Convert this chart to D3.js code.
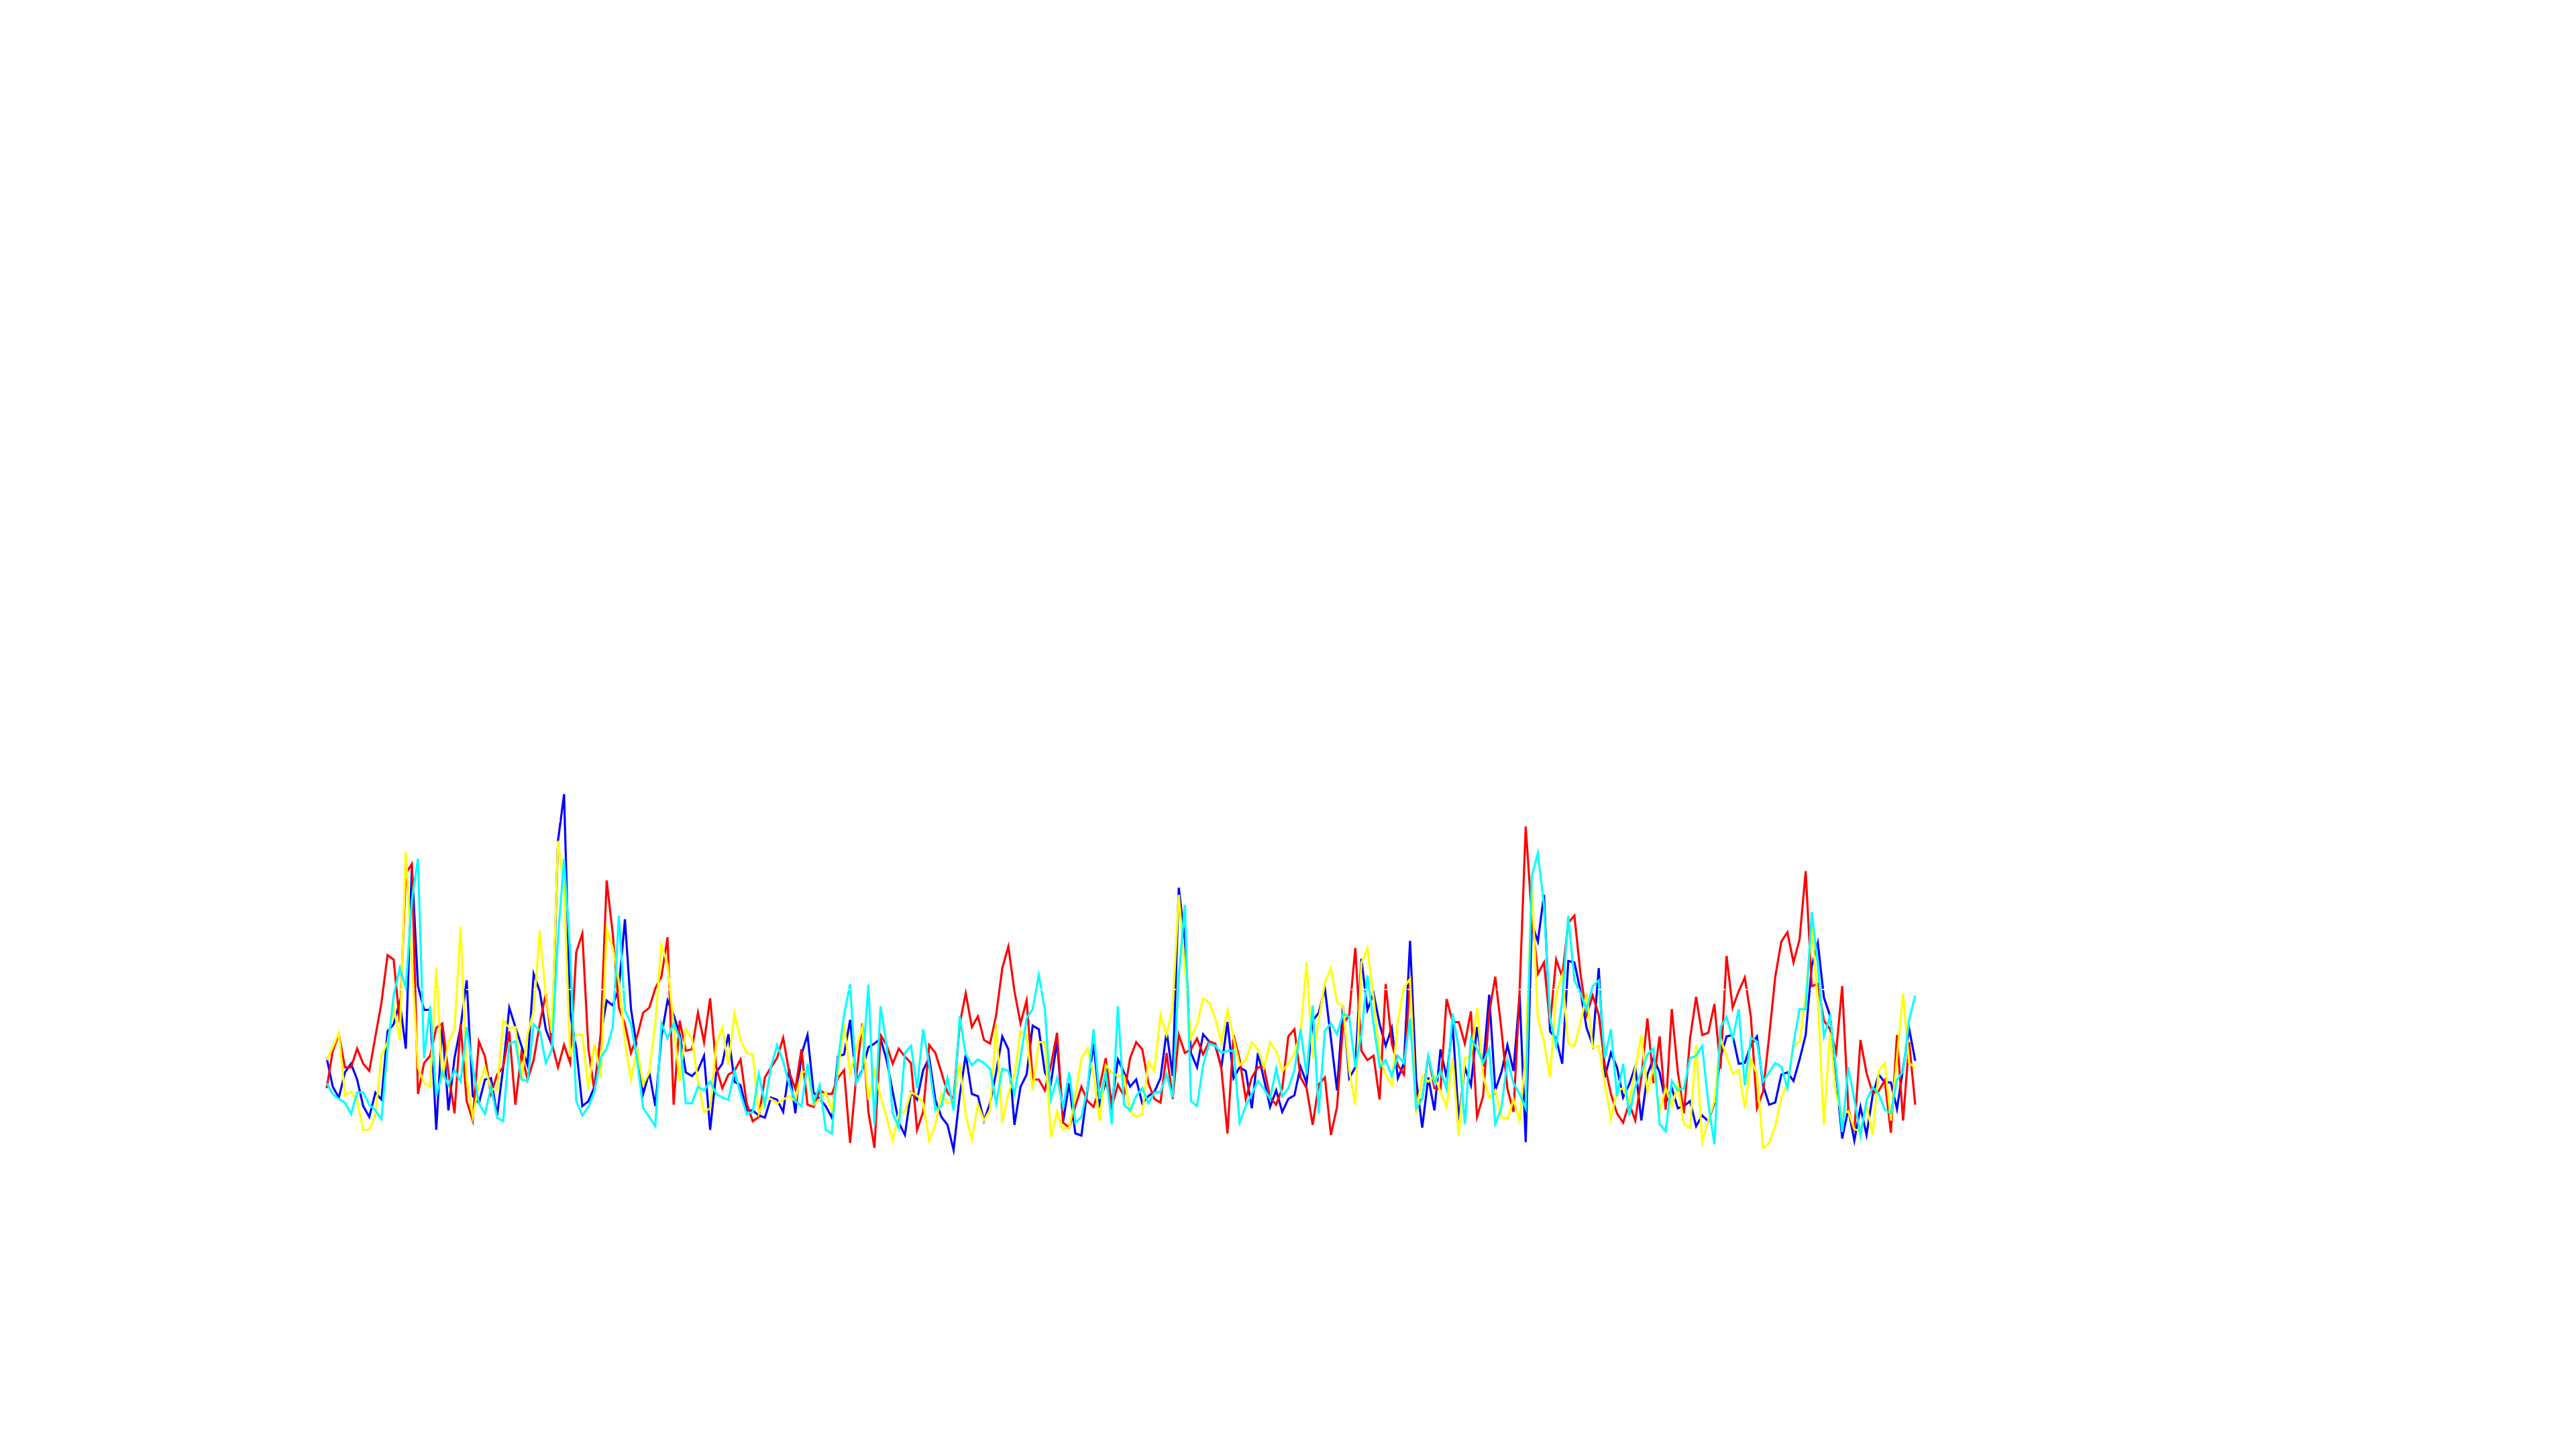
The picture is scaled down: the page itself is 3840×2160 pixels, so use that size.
<!DOCTYPE html>
<html><head><meta charset="utf-8">
<script src="https://cdn.jsdelivr.net/npm/d3@7"></script>
<style>html,body{margin:0;padding:0;background:#fff;}svg{display:block;}</style>
</head><body>
<script>
// sample index 0..261 shared by all series
const redValues = [
123,175,198,152,152,178,157,147,195,242,
308,302,215,422,435,115,158,168,207,213,
145,88,212,105,78,188,167,115,142,152,
202,100,172,135,162,212,255,185,152,183,
158,312,338,178,118,195,412,338,235,212,
172,195,228,235,262,278,333,100,217,175,
177,228,187,248,152,123,142,147,163,102,
77,83,138,152,165,193,145,122,177,100,
97,120,115,115,137,148,47,138,213,90,
40,197,183,157,178,167,158,65,90,183,
172,145,117,107,212,255,208,223,190,185,
225,290,320,258,213,245,135,135,120,155,
200,75,68,98,125,105,97,125,165,97,
128,112,165,187,177,130,108,103,172,108,
197,172,177,192,170,188,185,150,60,197,
163,108,138,152,152,110,100,123,195,205,
138,123,72,128,138,58,97,212,225,318,
175,162,168,107,268,185,155,142,278,102,
108,168,123,122,247,215,215,185,230,83,
112,228,278,205,122,90,258,487,362,282,
298,212,302,278,353,363,282,225,252,225,
155,115,88,75,102,78,138,220,130,195,
93,233,145,88,192,250,197,200,240,150,
307,235,258,277,222,95,118,195,278,327,
340,298,330,425,265,268,217,205,173,265,
94,63,190,144,116,119,134,61,197,78,
187,100];
const blueValues = [
165,125,110,145,157,135,98,83,117,107,
202,212,243,178,432,265,232,232,65,212,
92,165,208,273,112,102,135,137,85,152,
235,208,182,155,282,258,205,183,467,532,
228,178,98,105,125,195,245,238,262,358,
233,178,115,145,98,195,245,225,198,145,
140,148,168,65,145,157,198,132,127,92,
92,85,82,110,107,90,150,88,170,197,
117,108,98,82,167,170,218,132,148,180,
185,192,162,118,75,58,117,107,148,165,
107,83,72,37,112,170,115,112,78,102,
145,195,177,72,125,142,210,205,145,130,
188,77,130,60,57,122,185,102,132,102,
163,145,125,135,102,112,118,137,202,140,
402,328,172,152,198,188,182,152,215,137,
152,147,95,172,135,97,120,90,108,113,
153,130,217,228,262,192,120,238,137,152,
303,232,255,212,182,207,137,158,328,135,
68,138,92,177,138,212,78,152,127,208,
153,253,120,145,183,147,253,48,352,327,
392,202,192,157,300,298,258,207,183,290,
138,172,152,110,128,153,78,142,165,145,
102,123,95,98,105,70,85,77,102,165,
195,197,157,158,183,195,127,100,103,142,
145,133,163,197,293,325,249,224,140,53,
94,50,97,58,113,142,131,131,94,150,
206,161];
const yellowValues = [
162,180,200,113,118,105,65,65,85,168,
187,238,190,452,298,152,130,125,290,135,
187,205,348,135,83,128,152,122,120,217,
207,208,135,198,230,342,252,200,467,400,
167,198,197,122,185,138,345,318,272,188,
135,178,128,145,215,323,295,212,132,205,
192,132,90,95,185,207,155,227,190,172,
170,88,108,108,102,107,112,105,145,147,
100,107,117,92,145,213,143,178,208,107,
147,112,82,50,88,90,117,113,102,50,
72,115,102,105,157,85,52,100,78,93,
212,75,115,142,202,197,120,187,187,55,
90,65,68,112,165,178,142,77,155,145,
140,140,90,83,87,160,147,225,197,235,
392,292,193,212,248,242,220,187,232,192,
155,162,187,177,152,187,175,147,157,172,
198,298,165,218,270,290,243,237,148,100,
297,318,248,165,142,127,217,263,275,87,
140,132,140,118,97,165,57,165,167,235,
140,110,120,83,80,107,78,170,405,220,
188,138,255,280,185,182,213,255,180,182,
130,80,120,123,102,150,197,118,153,90,
123,98,128,73,68,183,48,78,105,192,
168,143,148,95,163,143,40,47,70,110,
130,183,187,252,347,245,72,200,113,86,
91,66,63,99,58,147,158,78,165,254,
158,151];
const cyanValues = [
130,115,108,103,87,117,117,100,92,80,
178,252,290,263,385,442,165,237,112,145,
127,148,132,208,152,102,87,125,82,77,
185,188,135,133,212,203,158,177,332,442,
312,105,85,97,118,165,178,208,363,232,
212,162,95,83,70,213,192,213,192,102,
102,125,120,132,115,110,107,147,115,87,
90,143,100,153,183,160,128,105,98,157,
103,127,65,60,162,225,268,130,147,267,
72,237,182,88,68,172,182,123,205,155,
93,98,137,92,223,170,155,163,158,150,
102,150,147,115,165,220,233,280,232,107,
137,97,145,75,83,123,205,108,145,73,
237,100,92,112,123,102,117,118,142,110,
278,378,105,98,155,185,182,172,175,175,
75,98,115,133,122,108,150,112,123,148,
205,142,238,88,203,213,198,227,222,152,
198,280,212,153,162,140,168,158,220,95,
108,168,130,147,122,227,178,73,192,178,
158,178,73,95,162,130,115,95,418,450,
378,220,182,245,363,273,255,232,265,273,
165,205,112,157,85,125,145,170,178,73,
63,133,120,123,165,168,182,102,45,208,
222,192,233,127,193,188,132,145,158,153,
123,185,233,233,368,295,195,223,150,62,
152,107,57,106,124,115,93,88,135,146,
218,252];
const gridValues = [25.6, 260.3, 495];

const series = [
  {name:"blue", color:"#0000ff", values:blueValues},
  {name:"red", color:"#ff0000", values:redValues},
  {name:"yellow", color:"#ffff00", values:yellowValues},
  {name:"cyan", color:"#00ffff", values:cyanValues}
];

const W = 3840, H = 2160;
const svg = d3.select("body").append("svg").attr("width", W).attr("height", H);
svg.append("rect").attr("width", W).attr("height", H).attr("fill", "#ffffff");

const n = redValues.length;
const x = d3.scaleLinear().domain([0, n - 1]).range([487, 2855]);
const y = d3.scaleLinear().domain([0, 500]).range([1753.9, 1218.2]);

const line = d3.line().x((d, i) => x(i)).y(d => y(d));

svg.append("g").selectAll("path").data(series).join("path")
  .attr("d", s => line(s.values))
  .attr("fill", "none")
  .attr("stroke", s => s.color)
  .attr("stroke-width", 3.2)
  .attr("stroke-linejoin", "miter")
  .attr("stroke-miterlimit", 6);

// white dotted grid drawn above the data
svg.append("g").selectAll("line").data(gridValues).join("line")
  .attr("x1", x(0)).attr("x2", x(n - 1))
  .attr("y1", d => y(d)).attr("y2", d => y(d))
  .attr("stroke", "#ffffff")
  .attr("stroke-width", 2)
  .attr("stroke-dasharray", "6,10.7")
  .attr("stroke-dashoffset", 9);
</script>
</body></html>
